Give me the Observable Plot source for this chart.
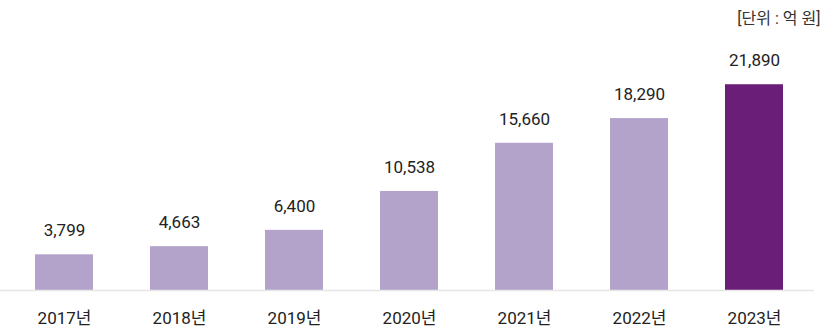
<!DOCTYPE html>
<html>
<head>
<meta charset="utf-8">
<script src="https://cdn.jsdelivr.net/npm/d3@7"></script>
<script src="https://cdn.jsdelivr.net/npm/@observablehq/plot@0.6"></script>
<style>
  html, body { margin: 0; padding: 0; background: #fff; }
  #chart { width: 827px; height: 331px; }
</style>
</head>
<body>
<div id="chart"></div>
<script>
const years = ["2017", "2018", "2019", "2020", "2021", "2022", "2023"];
const values = [3799, 4663, 6400, 10538, 15660, 18290, 21890];
const highlightYear = "2023";
const unitLabel = "[단위 : 억 원]";

const data = years.map((y, i) => ({year: y, value: values[i]}));
const fmt = d3.format(",");
const font = "Roboto, 'Noto Sans CJK KR', sans-serif";

const chart = Plot.plot({
  width: 827,
  height: 331,
  marginLeft: 5,
  marginRight: 15,
  marginTop: 55,
  marginBottom: 41,
  style: {fontFamily: font, fontSize: "17px", color: "#222", background: "#fff"},
  x: {domain: years, paddingInner: 0.5, paddingOuter: 0.25, label: null, tickSize: 0, tickPadding: 21, tickFormat: d => d + "년"},
  y: {domain: [0, 25000], axis: null},
  marks: [
    Plot.barY(data, {x: "year", y: "value", fill: d => d.year === highlightYear ? "#6b1e77" : "#b3a3cb"}),
    Plot.ruleY([0], {stroke: "#e6e6e6", strokeWidth: 1.5, insetLeft: -5, insetRight: -2}),
    Plot.text(data, {x: "year", y: "value", text: d => fmt(d.value), dy: -24, fontSize: 17, fill: "#222"}),
    Plot.text([unitLabel], {frameAnchor: "top-right", text: d => d, dy: -43, dx: 8, fontSize: 16, fill: "#333"})
  ]
});
document.getElementById("chart").appendChild(chart);
</script>
</body>
</html>
